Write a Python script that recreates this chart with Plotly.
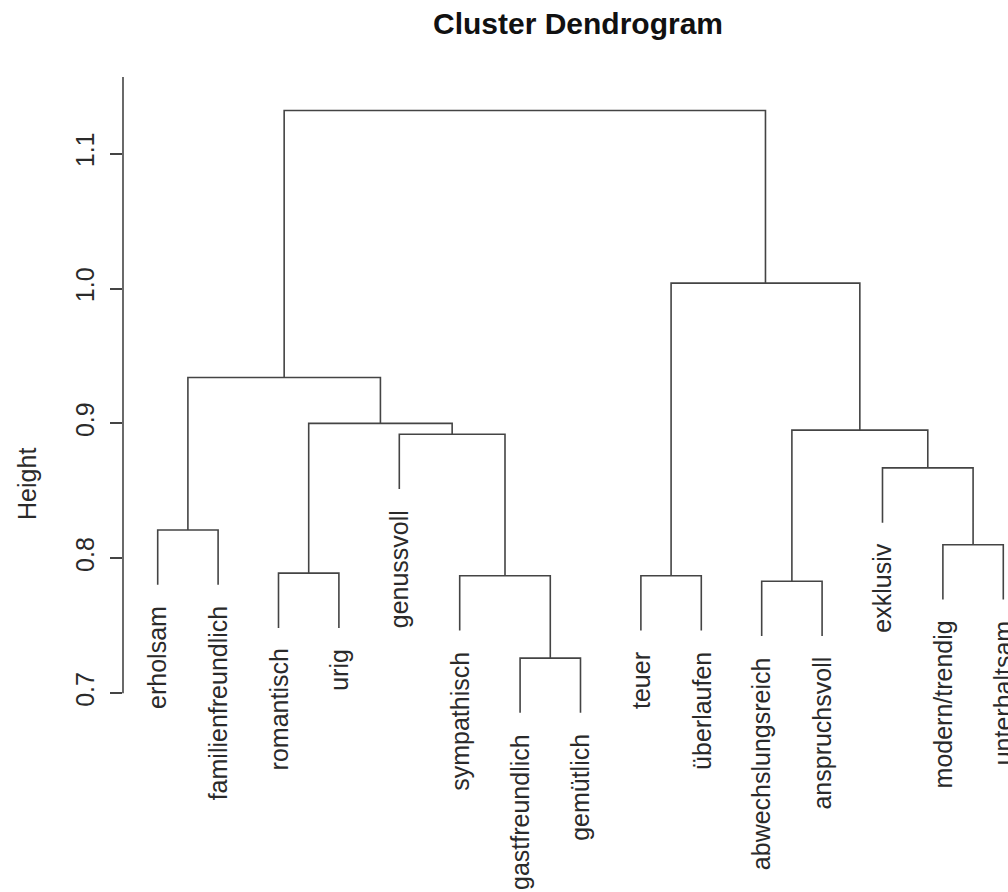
import plotly.graph_objects as go

# Leaf labels in dendrogram order (left to right)
labels = ["erholsam", "familienfreundlich", "romantisch", "urig", "genussvoll",
          "sympathisch", "gastfreundlich", "gemütlich", "teuer", "überlaufen",
          "abwechslungsreich", "anspruchsvoll", "exklusiv", "modern/trendig",
          "unterhaltsam"]

# Merge table in hclust style: negative = leaf index (1-based), positive = earlier merge
merge_left = [-7, -11, -9, -6, -3, -14, -1, -13, -5, 2, 5, 7, 3, 12]
merge_right = [-8, -12, -10, 1, -4, -15, -2, 6, 4, 8, 9, 11, 10, 13]
heights = [0.726, 0.783, 0.787, 0.787, 0.789, 0.810, 0.821, 0.867,
           0.892, 0.895, 0.900, 0.934, 1.004, 1.132]

y_ticks = [0.7, 0.8, 0.9, 1.0, 1.1]

hang = 0.1 * (max(heights) - min(heights))
leaf_pos = {lab: i + 1 for i, lab in enumerate(labels)}

node_x = []


def child_xy(c, h):
    if c < 0:
        return float(-c), h - hang
    return node_x[c - 1], heights[c - 1]


xs, ys = [], []
leaf_end = {}
for l, r, h in zip(merge_left, merge_right, heights):
    xl, yl = child_xy(l, h)
    xr, yr = child_xy(r, h)
    if l < 0:
        leaf_end[-l] = yl
    if r < 0:
        leaf_end[-r] = yr
    xs += [xl, xl, xr, xr, None]
    ys += [yl, h, h, yr, None]
    node_x.append((xl + xr) / 2)

line_col = "#444444"
text_col = "#2a2a2a"
font_fam = "Liberation Sans, Arial, sans-serif"

fig = go.Figure()
fig.add_trace(go.Scatter(x=xs, y=ys, mode="lines",
                         line=dict(color=line_col, width=1.6),
                         hoverinfo="skip", showlegend=False))

annotations = []
for lab in labels:
    i = leaf_pos[lab]
    annotations.append(dict(x=i, y=leaf_end[i], xref="x", yref="y",
                            text=lab, textangle=-90, showarrow=False,
                            xanchor="center", yanchor="top", yshift=-19,
                            font=dict(family=font_fam, size=25, color=text_col)))

annotations.append(dict(x=-0.1085, y=0.4932, xref="paper", yref="paper",
                        text="Height", textangle=-90, showarrow=False,
                        xanchor="center", yanchor="middle",
                        font=dict(family=font_fam, size=25, color=text_col)))

y_top = 1.1568
fig.add_shape(type="line", xref="paper", yref="y", x0=0, x1=0,
              y0=min(y_ticks), y1=y_top, line=dict(color=line_col, width=1.6))

fig.update_layout(
    width=1008, height=892,
    margin=dict(l=123, r=0, t=77, b=12),
    paper_bgcolor="white", plot_bgcolor="white",
    title=dict(text="<b>Cluster Dendrogram</b>", x=578 / 1008, xanchor="center",
               y=1 - 23 / 892, yanchor="middle",
               font=dict(family=font_fam, size=30, color="#111111")),
    xaxis=dict(range=[0.4255, 15.078], visible=False),
    yaxis=dict(range=[0.5615, y_top], tickvals=y_ticks,
               ticktext=[f"{v:.1f}" for v in y_ticks],
               ticks="outside", ticklen=12, tickwidth=1.6, tickcolor=line_col,
               tickangle=-90, ticklabelstandoff=6,
               showgrid=False, zeroline=False, showline=False,
               tickfont=dict(family=font_fam, size=25, color=text_col)),
    annotations=annotations,
)

fig.write_html("out.html")
